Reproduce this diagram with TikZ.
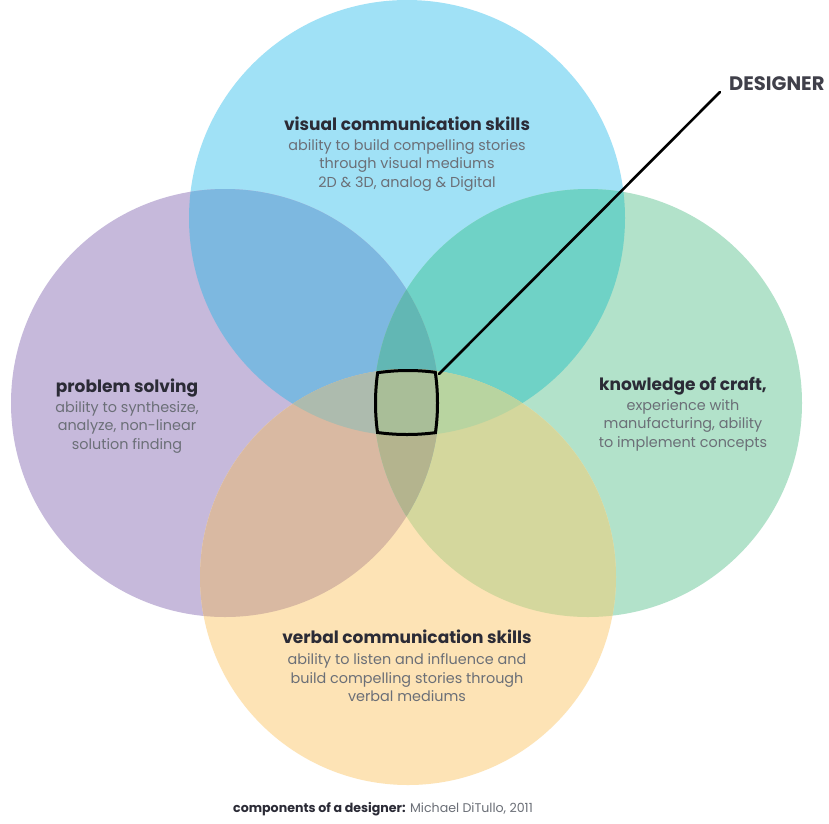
\documentclass[tikz,border=0pt]{standalone}
\usepackage{fontspec}
\setmainfont{Poppins}
\begin{document}
\begin{tikzpicture}[x=1pt,y=-1pt]
% colours of the four sets and of their overlaps
\definecolor{cB}{HTML}{A0E1F6}
\definecolor{cP}{HTML}{C6B9DB}
\definecolor{cG}{HTML}{B2E2CA}
\definecolor{cO}{HTML}{FDE3B5}
\definecolor{cBP}{HTML}{7DB8E0}
\definecolor{cBG}{HTML}{6FD2C6}
\definecolor{cPO}{HTML}{D9B9A2}
\definecolor{cGO}{HTML}{D4D79D}
\definecolor{cBO}{HTML}{B8D0C0}
\definecolor{cPG}{HTML}{9CC0B0}
\definecolor{cBPG}{HTML}{62B7B4}
\definecolor{cBPO}{HTML}{ADBBAE}
\definecolor{cBGO}{HTML}{B8D4A0}
\definecolor{cPGO}{HTML}{B4B48E}
\definecolor{cAll}{HTML}{A9BE98}
\definecolor{headcol}{HTML}{2B2B36}
\definecolor{bodycol}{HTML}{6B6F77}

\tikzset{
  headtext/.style={font=\bfseries\fontsize{17}{19}\selectfont, text=headcol, inner sep=0pt, anchor=base},
  bodytext/.style={font=\fontsize{14.4}{18.8}\selectfont, text=bodycol, inner sep=0pt, align=center, anchor=north},
  pointer/.style={line width=2.6pt, black, line cap=round},
}

% the four circles
\def\cirB{(407,218) circle[radius=218pt]}
\def\cirP{(225,403) circle[radius=214pt]}
\def\cirG{(588,403) circle[radius=214pt]}
\def\cirO{(408,577) circle[radius=208pt]}

\fill[white] (0,0) rectangle (829,823);
\useasboundingbox (0,0) rectangle (829,823);

% single sets
\fill[cB] \cirB;
\fill[cP] \cirP;
\fill[cG] \cirG;
\fill[cO] \cirO;

% pairwise overlaps
\begin{scope}\clip \cirB; \fill[cBP] \cirP; \end{scope}
\begin{scope}\clip \cirB; \fill[cBG] \cirG; \end{scope}
\begin{scope}\clip \cirB; \fill[cBO] \cirO; \end{scope}
\begin{scope}\clip \cirP; \fill[cPO] \cirO; \end{scope}
\begin{scope}\clip \cirG; \fill[cGO] \cirO; \end{scope}
\begin{scope}\clip \cirP; \fill[cPG] \cirG; \end{scope}

% triple overlaps
\begin{scope}\clip \cirB; \clip \cirP; \fill[cBPG] \cirG; \end{scope}
\begin{scope}\clip \cirB; \clip \cirP; \fill[cBPO] \cirO; \end{scope}
\begin{scope}\clip \cirB; \clip \cirG; \fill[cBGO] \cirO; \end{scope}
\begin{scope}\clip \cirP; \clip \cirG; \fill[cPGO] \cirO; \end{scope}

% all four, outlined
\begin{scope}
  \clip \cirB; \clip \cirP; \clip \cirG; \clip \cirO;
  \fill[cAll] \cirO;
  \draw[line width=6pt] \cirB \cirP \cirG \cirO;
\end{scope}

% pointer to the centre
\coordinate (core) at (439,374);
\coordinate (tip) at (720,92);
\draw[pointer] (core) -- (tip);
\node[font=\bfseries\fontsize{19.5}{21}\selectfont, text=headcol!90!white, anchor=base west, inner sep=0pt] (designer) at (729,90) {DESIGNER};

% labels (body text: top of first line sits about 10.5pt above its baseline)
\node[headtext] (visT) at (407,130) {visual communication skills};
\node[bodytext] (visD) at (407,139) {ability to build compelling stories\\through visual mediums\\2D \& 3D, analog \& Digital};

\node[headtext] (probT) at (127,392) {problem solving};
\node[bodytext] (probD) at (127,401) {ability to synthesize,\\analyze, non-linear\\solution finding};

\node[headtext] (craftT) at (683,390) {knowledge of craft,};
\node[bodytext] (craftD) at (683,399) {experience with\\manufacturing, ability\\to implement concepts};

\node[headtext] (verbT) at (407,643) {verbal communication skills};
\node[bodytext] (verbD) at (407,653) {ability to listen and influence and\\build compelling stories through\\verbal mediums};

\node[font=\fontsize{12.6}{14}\selectfont, inner sep=0pt, anchor=base] (credit) at (383,812)
  {\textbf{\textcolor{headcol}{components of a designer:}} \textcolor{bodycol}{Michael DiTullo, 2011}};
\end{tikzpicture}
\end{document}
